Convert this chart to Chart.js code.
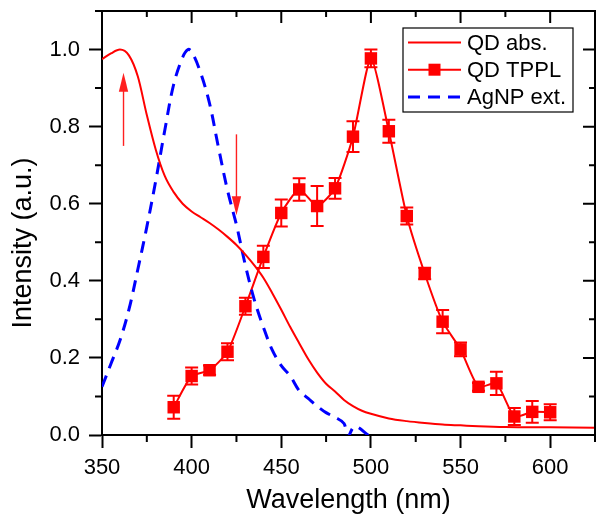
<!DOCTYPE html>
<html>
<head>
    <title>QD absorption, QD TPPL and AgNP extinction</title>
    <script src="https://cdn.jsdelivr.net/npm/chart.js@4.4.0/dist/chart.umd.min.js"></script>
    <style>
        html, body { margin: 0; padding: 0; background: #fff; }
    </style>
</head>
<body>
<canvas id="spectraChart" width="596" height="516"></canvas>

<script>
    // QD absorption (solid red)
    absWavelength = [350, 355, 360, 365, 370, 375, 380, 385, 390, 395, 400, 405, 410, 415, 420, 425, 430, 435, 440, 445,
                     450, 455, 460, 465, 470, 475, 480, 485, 490, 495, 500, 510, 520, 530, 540, 550, 560, 575, 600, 625];
    absIntensity  = [0.975, 0.99, 1.0, 0.985, 0.93, 0.83, 0.74, 0.672, 0.63, 0.60, 0.58, 0.565, 0.55, 0.533, 0.514, 0.493, 0.468, 0.44, 0.408, 0.368,
                     0.325, 0.28, 0.238, 0.197, 0.162, 0.133, 0.113, 0.091, 0.075, 0.063, 0.055, 0.043, 0.036, 0.031, 0.027, 0.025, 0.023, 0.021, 0.020, 0.019];

    // AgNP extinction (blue dashed)
    extWavelength = [350, 355, 360, 365, 370, 375, 380, 385, 390, 395, 398, 400, 405, 410, 415, 420, 425, 430, 435, 440,
                     445, 450, 455, 460, 465, 470, 475, 480, 485, 487, 491, 499];
    extIntensity  = [0.125, 0.185, 0.245, 0.325, 0.43, 0.54, 0.66, 0.79, 0.91, 0.98, 1.0, 0.995, 0.94, 0.86, 0.745, 0.635, 0.545, 0.44, 0.35, 0.28,
                     0.22, 0.18, 0.153, 0.115, 0.095, 0.075, 0.058, 0.046, 0.03, -0.005, 0.022, -0.002];

    // QD two-photon PL (red squares with error bars)
    tpplWavelength = [390, 400, 410, 420, 430, 440, 450, 460, 470, 480, 490, 500, 510, 520, 530, 540, 550, 560, 570, 580, 590, 600];
    tpplIntensity  = [0.072, 0.153, 0.168, 0.216, 0.334, 0.462, 0.576, 0.637, 0.594, 0.640, 0.774, 0.977, 0.788, 0.568, 0.419, 0.294, 0.222, 0.125, 0.134, 0.048, 0.060, 0.059];
    tpplError      = [0.030, 0.022, 0.012, 0.022, 0.022, 0.029, 0.035, 0.029, 0.052, 0.027, 0.040, 0.023, 0.030, 0.022, 0.015, 0.030, 0.018, 0.010, 0.030, 0.022, 0.028, 0.021];

    // arrows drawn on the plot (wavelength, start intensity, end intensity)
    arrowWavelength = [362, 425];
    arrowFrom       = [0.75, 0.78];
    arrowTo         = [0.94, 0.57];

    legendLabels = ['QD abs.', 'QD TPPL', 'AgNP ext.'];
    yTitle = 'Intensity (a.u.)';

    xMin = 350; xMax = 625; xMajor = 50; xMinor = 25;
    yMin = 0;   yMax = 1.1; yMajor = 0.2; yMinor = 0.1;

    red = '#ff0000';
    blue = '#0000ff';
    fontFamily = "'Liberation Sans', Arial, sans-serif";

    function toPoints(xs, ys) {
        return xs.map((x, i) => ({x: x, y: ys[i]}));
    }

    function noPadding(s) {
        s.paddingTop = 0; s.paddingBottom = 0; s.paddingLeft = 0; s.paddingRight = 0;
    }

    // top/right frame, minor ticks and mirrored inward ticks
    frameTicks = {
        id: 'frameTicks',
        afterDraw(chart) {
            const c = chart.ctx, a = chart.chartArea;
            const xs = chart.scales.x, ys = chart.scales.y;
            c.save();
            c.strokeStyle = '#000';
            c.lineWidth = 2;
            c.beginPath();
            c.moveTo(a.left, a.top); c.lineTo(a.right, a.top); c.lineTo(a.right, a.bottom);
            c.stroke();
            c.beginPath();
            for (let v = xMin; v <= xMax + 1e-6; v += xMinor) {
                const px = xs.getPixelForValue(v);
                const major = Math.abs((v - xMin) % xMajor) < 1e-6;
                if (!major) { c.moveTo(px, a.bottom); c.lineTo(px, a.bottom + 7); }
                c.moveTo(px, a.top); c.lineTo(px, a.top + (major ? 12 : 6));
            }
            for (let k = 0; yMin + k * yMinor <= yMax + 1e-6; k++) {
                const v = yMin + k * yMinor;
                const py = ys.getPixelForValue(v);
                const major = k % 2 === 0;
                if (!major) { c.moveTo(a.left, py); c.lineTo(a.left - 7, py); }
                c.moveTo(a.right, py); c.lineTo(a.right - (major ? 12 : 6), py);
            }
            c.stroke();

            // y title sits a little below the middle of the axis, as in the original
            c.fillStyle = '#000';
            c.font = '27px ' + fontFamily;
            c.textAlign = 'center';
            c.textBaseline = 'middle';
            c.translate(24, (a.top + a.bottom) / 2 + 20);
            c.rotate(-Math.PI / 2);
            c.fillText(yTitle, 0, 0);
            c.restore();
        }
    };

    errorBars = {
        id: 'errorBars',
        afterDatasetsDraw(chart) {
            const c = chart.ctx, xs = chart.scales.x, ys = chart.scales.y;
            c.save();
            c.strokeStyle = red;
            c.lineWidth = 2;
            c.beginPath();
            tpplWavelength.forEach((w, i) => {
                const px = xs.getPixelForValue(w);
                const top = ys.getPixelForValue(tpplIntensity[i] + tpplError[i]);
                const bot = ys.getPixelForValue(tpplIntensity[i] - tpplError[i]);
                c.moveTo(px, top); c.lineTo(px, bot);
                c.moveTo(px - 6.5, top); c.lineTo(px + 6.5, top);
                c.moveTo(px - 6.5, bot); c.lineTo(px + 6.5, bot);
            });
            c.stroke();
            c.restore();
        }
    };

    arrows = {
        id: 'arrows',
        afterDatasetsDraw(chart) {
            const c = chart.ctx, xs = chart.scales.x, ys = chart.scales.y;
            c.save();
            c.strokeStyle = '#ff2020';
            c.fillStyle = '#ff2020';
            c.lineWidth = 1.4;
            arrowWavelength.forEach((w, i) => {
                const px = xs.getPixelForValue(w);
                const y0 = ys.getPixelForValue(arrowFrom[i]);
                const y1 = ys.getPixelForValue(arrowTo[i]);
                const dir = y1 < y0 ? 1 : -1;
                c.beginPath();
                c.moveTo(px, y0); c.lineTo(px, y1 + dir * 18);
                c.stroke();
                c.beginPath();
                c.moveTo(px, y1);
                c.lineTo(px - 4.7, y1 + dir * 19);
                c.lineTo(px + 4.7, y1 + dir * 19);
                c.closePath();
                c.fill();
            });
            c.restore();
        }
    };

    boxLegend = {
        id: 'boxLegend',
        afterDraw(chart) {
            const c = chart.ctx, a = chart.chartArea;
            const left = a.right - 192, top = a.top + 17, w = 170, h = 84;
            c.save();
            c.fillStyle = '#fff';
            c.fillRect(left, top, w, h);
            c.strokeStyle = '#000';
            c.lineWidth = 1.2;
            c.strokeRect(left, top, w, h);
            c.font = '22px ' + fontFamily;
            c.textBaseline = 'middle';
            c.textAlign = 'left';
            legendLabels.forEach((label, i) => {
                const y = top + 14.5 + i * 27.2;
                const x0 = left + 5, x1 = left + 58;
                c.lineWidth = i === 2 ? 3 : 2;
                c.strokeStyle = i === 2 ? blue : red;
                c.setLineDash(i === 2 ? [12, 8] : []);
                c.beginPath();
                c.moveTo(x0, y); c.lineTo(x1, y);
                c.stroke();
                c.setLineDash([]);
                if (i === 1) {
                    c.fillStyle = red;
                    c.fillRect((x0 + x1) / 2 - 6, y - 6, 12, 12);
                }
                c.fillStyle = '#000';
                c.fillText(label, left + 64, y + 1);
            });
            c.restore();
        }
    };

    ctx = document.getElementById('spectraChart');

    spectraChart = new Chart(ctx, {
        type: 'line',
        data: {
            datasets: [
                {
                    label: legendLabels[0],
                    data: toPoints(absWavelength, absIntensity),
                    borderColor: red,
                    borderWidth: 2,
                    pointRadius: 0,
                    cubicInterpolationMode: 'monotone'
                },
                {
                    label: legendLabels[2],
                    data: toPoints(extWavelength, extIntensity),
                    borderColor: blue,
                    borderWidth: 3,
                    borderDash: [12, 8],
                    pointRadius: 0,
                    tension: 0.35
                },
                {
                    label: legendLabels[1],
                    data: toPoints(tpplWavelength, tpplIntensity),
                    borderColor: red,
                    backgroundColor: red,
                    borderWidth: 2,
                    pointStyle: 'rect',
                    pointRadius: 8.8,
                    pointBorderWidth: 0,
                    tension: 0.2
                }
            ]
        },
        options: {
            responsive: false,
            animation: false,
            devicePixelRatio: 1,
            layout: { autoPadding: false, padding: { top: 11, right: 1, left: 0, bottom: 0 } },
            plugins: {
                legend: { display: false },
                tooltip: { enabled: false }
            },
            scales: {
                x: {
                    type: 'linear',
                    min: xMin,
                    max: xMax,
                    border: { display: true, color: '#000', width: 2 },
                    grid: { drawOnChartArea: false, drawTicks: true, tickLength: 13, tickWidth: 2, tickColor: '#000' },
                    ticks: {
                        stepSize: xMajor,
                        includeBounds: false,
                        color: '#000',
                        padding: 7,
                        maxRotation: 0,
                        font: { family: fontFamily, size: 22 }
                    },
                    title: {
                        display: true,
                        text: 'Wavelength (nm)',
                        color: '#000',
                        padding: { top: 0, bottom: 2 },
                        font: { family: fontFamily, size: 27, lineHeight: 1 }
                    },
                    afterFit: s => { s.height = 81; noPadding(s); }
                },
                y: {
                    min: yMin,
                    max: yMax,
                    border: { display: true, color: '#000', width: 2 },
                    grid: { drawOnChartArea: false, drawTicks: true, tickLength: 13, tickWidth: 2, tickColor: '#000' },
                    ticks: {
                        stepSize: yMajor,
                        includeBounds: false,
                        color: '#000',
                        padding: 9,
                        font: { family: fontFamily, size: 22 },
                        callback: v => v.toFixed(1)
                    },
                    afterFit: s => { s.width = 102; noPadding(s); }
                }
            }
        },
        plugins: [frameTicks, errorBars, arrows, boxLegend]
    });
</script>
</body>
</html>
